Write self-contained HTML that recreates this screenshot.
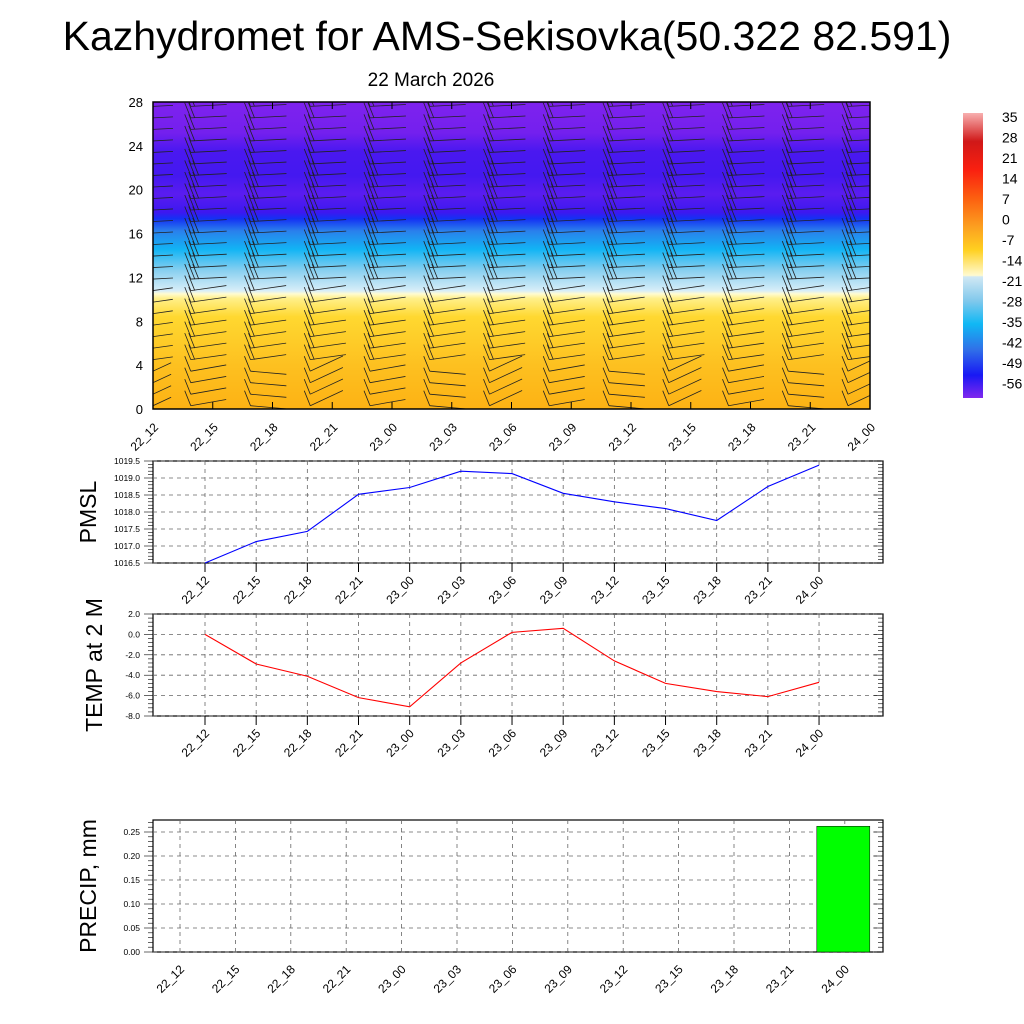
<!DOCTYPE html>
<html><head><meta charset="utf-8">
<style>
body{margin:0;background:#fff;}
svg{display:block;font-family:"Liberation Sans",sans-serif;}
</style></head>
<body>
<svg id="c" width="1024" height="1024" viewBox="0 0 1024 1024">
<defs>
<clipPath id="tc"><rect x="153" y="102" width="717" height="307"/></clipPath>
<linearGradient id="tg" x1="0" y1="1" x2="0" y2="0">
<stop offset="0" stop-color="#fdb214"/>
<stop offset="0.14" stop-color="#fdc020"/>
<stop offset="0.3" stop-color="#ffd830"/>
<stop offset="0.36" stop-color="#fff08a"/>
<stop offset="0.375" stop-color="#fffbd0"/>
<stop offset="0.385" stop-color="#d8eef8"/>
<stop offset="0.45" stop-color="#8ad0f0"/>
<stop offset="0.52" stop-color="#12b4f4"/>
<stop offset="0.58" stop-color="#2a80ec"/>
<stop offset="0.62" stop-color="#1430f4"/>
<stop offset="0.64" stop-color="#3c18f0"/>
<stop offset="0.7" stop-color="#5a1cf0"/>
<stop offset="0.76" stop-color="#4418f0"/>
<stop offset="0.84" stop-color="#4a18f0"/>
<stop offset="0.9" stop-color="#7420ee"/>
<stop offset="1" stop-color="#7e22ee"/>
</linearGradient>
<linearGradient id="cb" x1="0" y1="0" x2="0" y2="1">
<stop offset="0" stop-color="#f8b0b0"/>
<stop offset="0.1" stop-color="#d01818"/>
<stop offset="0.2" stop-color="#fa2010"/>
<stop offset="0.3" stop-color="#fc6010"/>
<stop offset="0.4" stop-color="#fca020"/>
<stop offset="0.48" stop-color="#ffd020"/>
<stop offset="0.57" stop-color="#fffad0"/>
<stop offset="0.575" stop-color="#d0e8f4"/>
<stop offset="0.66" stop-color="#80c8ec"/>
<stop offset="0.74" stop-color="#10b8f4"/>
<stop offset="0.83" stop-color="#3070e8"/>
<stop offset="0.92" stop-color="#1818f4"/>
<stop offset="1" stop-color="#8028ee"/>
</linearGradient>
</defs>
<text x="507" y="50" font-size="41" text-anchor="middle">Kazhydromet for AMS-Sekisovka(50.322 82.591)</text>
<text x="431" y="86" font-size="19" text-anchor="middle">22 March 2026</text>
<rect x="153" y="102" width="717" height="307" fill="url(#tg)"/>
<g id="barbs" clip-path="url(#tc)"></g>
<rect x="153" y="102" width="717" height="307" fill="none" stroke="#000" stroke-width="1.5"/>
<g id="topaxis"></g>
<rect x="963" y="113" width="20" height="285" fill="url(#cb)"/>
<g id="cbl"></g>
<g id="p1"></g>
<g id="p2"></g>
<g id="p3"></g>
</svg>
<script>
const times=["22_12","22_15","22_18","22_21","23_00","23_03","23_06","23_09","23_12","23_15","23_18","23_21","24_00"];
const pmsl=[1016.5,1017.13,1017.43,1018.52,1018.72,1019.2,1019.13,1018.55,1018.3,1018.1,1017.75,1018.75,1019.38];
const temp=[0,-2.9,-4.1,-6.2,-7.1,-2.8,0.2,0.6,-2.6,-4.8,-5.6,-6.1,-4.7];
const precip=[0,0,0,0,0,0,0,0,0,0,0,0,0.262];
const heightTicks=[0,4,8,12,16,20,24,28];
const cbLabels=["35","28","21","14","7","0","-7","-14","-21","-28","-35","-42","-49","-56"];
const pmslTicks=[1016.5,1017.0,1017.5,1018.0,1018.5,1019.0,1019.5];
const tempTicks=[-8,-6,-4,-2,0,2];
const precipTicks=[0,0.05,0.10,0.15,0.20,0.25];
const NS="http://www.w3.org/2000/svg";
function mk(p,tag,a,txt){const e=document.createElementNS(NS,tag);for(const k in a)e.setAttribute(k,a[k]);if(txt!==undefined)e.textContent=txt;p.appendChild(e);return e;}
const tx=i=>153+i*(717/12), hy=h=>409-h*(307/28);
const ta=document.getElementById('topaxis');
heightTicks.forEach(h=>{const t=mk(ta,'text',{x:143,y:hy(h)+5,'font-size':13,'text-anchor':'end'},h);

});
times.forEach((s,i)=>{const x=tx(i);mk(ta,'line',{x1:x,y1:409,x2:x,y2:402,stroke:'#000'});mk(ta,'line',{x1:x,y1:102,x2:x,y2:109,stroke:'#000'});
const t=mk(ta,'text',{x:0,y:0,'font-size':12,'text-anchor':'end',transform:`translate(${x+6},${428}) rotate(-45)`},s);

});
const bg=document.getElementById('barbs');
for(let i=0;i<13;i++){for(let h=0.3;h<28;h+=1.05){const x=tx(i),y=hy(h);
const ang=h<4?(-25+(i%3)*15):(h<11?-8:-3);
const L=i==0?20:36;const x0=i==0?x:x-22;const rad=ang*Math.PI/180;
const x1=x0+L*Math.cos(rad),y1=y+L*Math.sin(rad);
mk(bg,'line',{x1:x0,y1:y,x2:x1,y2:y1,stroke:'#222','stroke-width':0.8});
if(i>0){const n=h>11&&h<22?3:(h<4?1:2);for(let k=0;k<n;k++){const bx=x0+k*4;mk(bg,'line',{x1:bx,y1:y,x2:bx-6,y2:y-15,stroke:'#222','stroke-width':0.8});}}}}
const cl=document.getElementById('cbl');
cbLabels.forEach((s,i)=>{const t=mk(cl,'text',{x:1002,y:122+i*20.5,'font-size':14},s);

});
function panel(g,top,bot,ticks,vals,col,title,fmt,lx){
 const lo=ticks[0],hi=ticks[ticks.length-1];const y=v=>bot-(v-lo)/(hi-lo)*(bot-top);const x=i=>205+i*51.17;
 mk(g,'rect',{x:153,y:top,width:730,height:bot-top,fill:'none',stroke:'#000','stroke-width':1.2});
 ticks.forEach(v=>{const yy=y(v);mk(g,'line',{x1:153,y1:yy,x2:883,y2:yy,stroke:'#666','stroke-dasharray':'4,4','stroke-width':0.8});
 const t=mk(g,'text',{x:140,y:yy+3,'font-size':8.5,'text-anchor':'end'},fmt(v));
 
 });
 for(let k=0;k<=(ticks.length-1)*5;k++){const yy=top+k*(bot-top)/((ticks.length-1)*5);const w=k%5?5:9;mk(g,'line',{x1:153,y1:yy,x2:153-w,y2:yy,stroke:'#000','stroke-width':0.6});mk(g,'line',{x1:883,y1:yy,x2:883-w,y2:yy,stroke:'#000','stroke-width':0.6});}
 times.forEach((s,i)=>{mk(g,'line',{x1:x(i),y1:top,x2:x(i),y2:bot,stroke:'#666','stroke-dasharray':'4,4','stroke-width':0.8});mk(g,'line',{x1:x(i),y1:bot,x2:x(i),y2:bot+9,stroke:'#000'});
 const t=mk(g,'text',{x:0,y:0,'font-size':12,'text-anchor':'end',transform:`translate(${x(i)+5},${bot+18}) rotate(-45)`},s);
 
 });
 const p=mk(g,'polyline',{points:vals.map((v,i)=>x(i)+','+y(v)).join(' '),fill:'none',stroke:col,'stroke-width':1.1});
 
 
 const t=mk(g,'text',{x:0,y:0,'font-size':23,'text-anchor':'middle',transform:`translate(${lx},${(top+bot)/2}) rotate(-90)`},title);
 
 
}
panel(document.getElementById('p1'),461,563,pmslTicks,pmsl,'#0000ff','PMSL',v=>v.toFixed(1),96);
panel(document.getElementById('p2'),614,716,tempTicks,temp,'#ff0000','TEMP at 2 M',v=>v.toFixed(1),102);
(function(){const g=document.getElementById('p3');const top=820,bot=952;const y=v=>bot-v/0.05*24;const x=i=>180+i*55.4;
 mk(g,'rect',{x:153,y:top,width:730,height:bot-top,fill:'none',stroke:'#000','stroke-width':1.2});
 precipTicks.forEach(v=>{const yy=y(v);mk(g,'line',{x1:153,y1:yy,x2:883,y2:yy,stroke:'#666','stroke-dasharray':'4,4','stroke-width':0.8});
 const t=mk(g,'text',{x:140,y:yy+3,'font-size':8.5,'text-anchor':'end'},v.toFixed(2));
 
 });
 for(let k=0;k<=27;k++){const yy=bot-k*4.8;const w=k%5?5:9;mk(g,'line',{x1:153,y1:yy,x2:153-w,y2:yy,stroke:'#000','stroke-width':0.6});mk(g,'line',{x1:883,y1:yy,x2:883-w,y2:yy,stroke:'#000','stroke-width':0.6});}
 times.forEach((s,i)=>{mk(g,'line',{x1:x(i),y1:top,x2:x(i),y2:bot,stroke:'#666','stroke-dasharray':'4,4','stroke-width':0.8});
 const t=mk(g,'text',{x:0,y:0,'font-size':12,'text-anchor':'end',transform:`translate(${x(i)+5},${bot+18}) rotate(-45)`},s);
 
 
 if(precip[i]>0){const r=mk(g,'rect',{x:x(i)-28,y:y(precip[i]),width:53,height:bot-y(precip[i]),fill:'#00ff00',stroke:'#000','stroke-width':0.5});
 
 }});
 const t=mk(g,'text',{x:0,y:0,'font-size':23,'text-anchor':'middle',transform:`translate(96,886) rotate(-90)`},'PRECIP, mm');
 
 
})();
</script>
</body></html>
